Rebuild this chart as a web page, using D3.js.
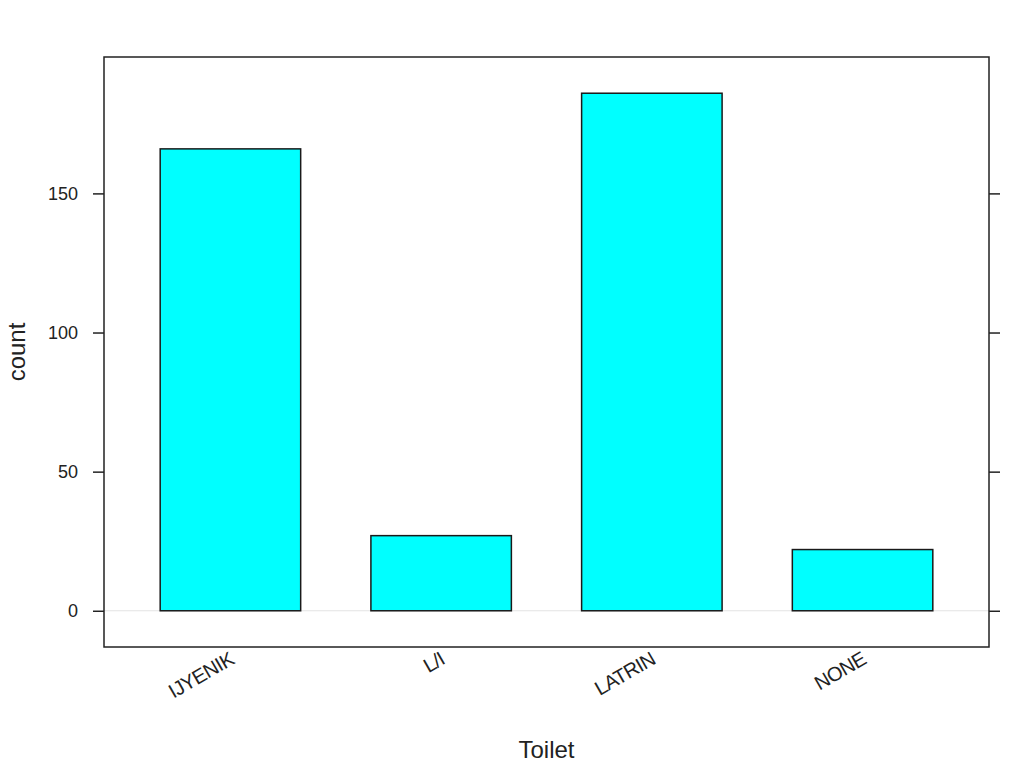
<!DOCTYPE html>
<html>
<head>
<meta charset="utf-8">
<script src="https://cdn.jsdelivr.net/npm/d3@7"></script>
<style>
body { margin: 0; background: #fff; }
svg { display: block; font-family: "Liberation Sans", Arial, sans-serif; }
</style>
</head>
<body>
<svg id="chart" width="1024" height="776"></svg>
<script>
const categories = ["IJYENIK", "L/I", "LATRIN", "NONE"];
const counts = [166, 27, 186, 22];
const yTicks = [0, 50, 100, 150];
const xTitle = "Toilet";
const yTitle = "count";

(function () {
const svg = d3.select("#chart");
const pL = 104, pR = 989, pT = 57, pB = 647;

const maxV = d3.max(counts);
const pad = 0.07 * maxV;
const y = d3.scaleLinear().domain([-pad, maxV + pad]).range([pB, pT]);
const x = d3.scaleLinear().domain([0.4, categories.length + 0.6]).range([pL, pR]);
const barW = (x(1) - x(0)) * 2 / 3;

// zero reference line
svg.append("line")
  .attr("x1", pL).attr("x2", pR)
  .attr("y1", y(0)).attr("y2", y(0))
  .attr("stroke", "#e3e3e3").attr("stroke-width", 1);

// bars
svg.selectAll("rect.bar").data(counts).enter().append("rect")
  .attr("class", "bar")
  .attr("x", (d, i) => x(i + 1) - barW / 2)
  .attr("width", barW)
  .attr("y", d => y(d))
  .attr("height", d => y(0) - y(d))
  .attr("fill", "#00ffff")
  .attr("stroke", "#1a1a1a")
  .attr("stroke-width", 1.5);

// box
svg.append("rect")
  .attr("x", pL).attr("y", pT)
  .attr("width", pR - pL).attr("height", pB - pT)
  .attr("fill", "none").attr("stroke", "#222").attr("stroke-width", 1.5);

// left axis
const yAxisL = d3.axisLeft(y).tickValues(yTicks).tickSize(11).tickPadding(15);
const gL = svg.append("g").attr("transform", `translate(${pL},0)`).call(yAxisL);
gL.select(".domain").remove();
gL.selectAll(".tick line").attr("stroke", "#222").attr("stroke-width", 1.5);
gL.selectAll(".tick text").attr("font-size", 18).attr("fill", "#222")
  .attr("font-family", "Liberation Sans, Arial, sans-serif");

// right axis ticks (no labels)
const yAxisR = d3.axisRight(y).tickValues(yTicks).tickSize(11).tickFormat("");
const gR = svg.append("g").attr("transform", `translate(${pR},0)`).call(yAxisR);
gR.select(".domain").remove();
gR.selectAll(".tick line").attr("stroke", "#222").attr("stroke-width", 1.5);

// x category labels rotated
svg.selectAll("text.xlab").data(categories).enter().append("text")
  .attr("class", "xlab")
  .attr("transform", (d, i) => `translate(${x(i + 1) + 5},${pB + 16}) rotate(-30)`)
  .attr("text-anchor", "end")
  .attr("font-size", 20)
  .attr("letter-spacing", -0.6)
  .attr("fill", "#222")
  .text(d => d);

// titles
svg.append("text")
  .attr("x", (pL + pR) / 2).attr("y", 758)
  .attr("text-anchor", "middle").attr("font-size", 24).attr("fill", "#222")
  .text(xTitle);
svg.append("text")
  .attr("transform", `translate(25,${(pT + pB) / 2}) rotate(-90)`)
  .attr("text-anchor", "middle").attr("font-size", 24).attr("fill", "#222")
  .text(yTitle);
})();
</script>
</body>
</html>
